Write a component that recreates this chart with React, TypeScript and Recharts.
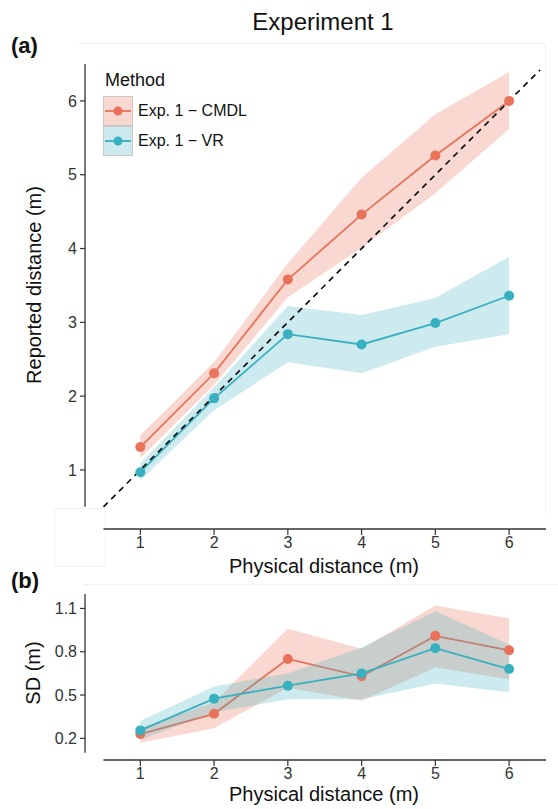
import React from "react";
import { Area, ComposedChart, Line, ReferenceLine, XAxis, YAxis } from "recharts";

// physical distance (m)
const distances = [1, 2, 3, 4, 5, 6];

// (a) reported distance, mean and ribbon
const cmdlMean = [1.31, 2.31, 3.58, 4.46, 5.26, 6.0];
const cmdlLow = [1.16, 2.15, 3.34, 4.01, 4.75, 5.62];
const cmdlHigh = [1.47, 2.46, 3.8, 4.96, 5.82, 6.39];
const vrMean = [0.97, 1.97, 2.84, 2.7, 2.99, 3.36];
const vrLow = [0.86, 1.81, 2.46, 2.31, 2.67, 2.84];
const vrHigh = [1.09, 2.12, 3.22, 3.1, 3.33, 3.89];

// (b) SD of reported distance, mean and ribbon
const sdCmdlMean = [0.23, 0.37, 0.75, 0.63, 0.91, 0.81];
const sdCmdlLow = [0.17, 0.27, 0.55, 0.46, 0.69, 0.61];
const sdCmdlHigh = [0.27, 0.45, 0.96, 0.82, 1.12, 1.03];
const sdVrMean = [0.255, 0.475, 0.565, 0.65, 0.825, 0.68];
const sdVrLow = [0.19, 0.38, 0.47, 0.47, 0.58, 0.52];
const sdVrHigh = [0.32, 0.56, 0.65, 0.83, 1.08, 0.85];

const xTicks = [1, 2, 3, 4, 5, 6];
const yTicksA = [1, 2, 3, 4, 5, 6];
const yTicksB = [0.2, 0.5, 0.8, 1.1];

const methods = [
  { key: "cmdl", name: "Exp. 1 \u2212 CMDL", color: "#E8735A" },
  { key: "vr", name: "Exp. 1 \u2212 VR", color: "#38B0BF" },
];

const FONT = '"Liberation Sans", Arial, Helvetica, sans-serif';
const AXIS = "#333333";

const dataA = distances.map((x, i) => ({
  x,
  cmdl: cmdlMean[i],
  cmdlBand: [cmdlLow[i], cmdlHigh[i]],
  vr: vrMean[i],
  vrBand: [vrLow[i], vrHigh[i]],
}));

const dataB = distances.map((x, i) => ({
  x,
  cmdl: sdCmdlMean[i],
  cmdlBand: [sdCmdlLow[i], sdCmdlHigh[i]],
  vr: sdVrMean[i],
  vrBand: [sdVrLow[i], sdVrHigh[i]],
}));

const tickStyle = { fontSize: 16, fill: AXIS, fontFamily: FONT };

function series(z: number) {
  // ribbon, then line on top, per method; later method drawn above
  return methods.flatMap((m, i) => [
    <Area
      key={m.key + "-band"}
      dataKey={m.key + "Band"}
      type="linear"
      stroke="none"
      fill={m.color}
      fillOpacity={i === 0 ? 0.28 : 0.25}
      isAnimationActive={false}
      activeDot={false}
      zIndex={z + i * 20}
    />,
    <Line
      key={m.key + "-line"}
      dataKey={m.key}
      type="linear"
      stroke={m.color}
      strokeWidth={1.8}
      dot={{ r: 5, fill: m.color, stroke: m.color, strokeWidth: 0 }}
      activeDot={false}
      isAnimationActive={false}
      zIndex={z + i * 20 + 10}
    />,
  ]);
}

function MethodLegend() {
  return (
    <div style={{ position: "absolute", left: 103, top: 70, fontFamily: FONT, color: "#111" }}>
      <div style={{ fontSize: 18, lineHeight: "20px", marginLeft: 2, marginBottom: 6 }}>Method</div>
      {methods.map((m, i) => (
        <div key={m.key} style={{ display: "flex", alignItems: "center", height: 30 }}>
          <svg width={30} height={30} style={{ display: "block" }}>
            <rect
              x={0.5}
              y={0.5}
              width={29}
              height={29}
              fill={m.color}
              fillOpacity={i === 0 ? 0.28 : 0.25}
              stroke="#c8c8c8"
            />
            <line x1={2} y1={15} x2={28} y2={15} stroke={m.color} strokeWidth={1.8} />
            <circle cx={15} cy={15} r={4.5} fill={m.color} />
          </svg>
          <span style={{ fontSize: 16, marginLeft: 5 }}>{m.name}</span>
        </div>
      ))}
    </div>
  );
}

const abs = (extra: React.CSSProperties): React.CSSProperties => ({
  position: "absolute",
  fontFamily: FONT,
  color: "#111",
  whiteSpace: "nowrap",
  lineHeight: 1,
  ...extra,
});

export default function App() {
  return (
    <div style={{ position: "absolute", left: 0, top: 0, width: 558, height: 809, background: "#fff", overflow: "hidden" }}>
      {/* faint panel outlines seen in the source figure */}
      <div style={{ position: "absolute", left: 78, top: 43, width: 467, height: 470, borderTop: "1px solid #f0f0f0", borderRight: "1px solid #f0f0f0" }} />
      <div style={{ position: "absolute", left: 54, top: 508, width: 50, height: 57, border: "1px solid #f2f2f2" }} />
      <div style={{ position: "absolute", left: 83, top: 584, width: 475, height: 170, borderTop: "1px solid #f0f0f0" }} />

      {/* panel (a) */}
      <div style={{ position: "absolute", left: 0, top: 0 }}>
        <ComposedChart width={558} height={560} data={dataA} margin={{ top: 64, right: 12, bottom: 0, left: 0 }}>
          <XAxis
            type="number"
            dataKey="x"
            domain={[0.25, 6.5]}
            ticks={xTicks}
            allowDataOverflow
            axisLine={false}
            tickLine={{ stroke: AXIS, strokeWidth: 1.2 }}
            tickSize={6}
            tickMargin={2}
            height={31}
            tick={tickStyle}
          />
          <YAxis
            type="number"
            domain={[0.2, 6.5]}
            ticks={yTicksA}
            allowDataOverflow
            axisLine={false}
            tickLine={{ stroke: AXIS, strokeWidth: 1.2 }}
            tickSize={5}
            tickMargin={3}
            width={85}
            tick={tickStyle}
          />
          {series(100)}
          <ReferenceLine
            segment={[{ x: 0.5, y: 0.5 }, { x: 6.42, y: 6.42 }]}
            stroke="#111"
            strokeWidth={1.7}
            strokeDasharray="6 5"
            ifOverflow="visible"
            zIndex={450}
          />
          <ReferenceLine segment={[{ x: 0.5, y: 0.2 }, { x: 6.5, y: 0.2 }]} stroke={AXIS} strokeWidth={1.3} ifOverflow="visible" />
          <ReferenceLine segment={[{ x: 0.25, y: 0.5 }, { x: 0.25, y: 6.5 }]} stroke={AXIS} strokeWidth={1.3} ifOverflow="visible" />
        </ComposedChart>
      </div>

      {/* panel (b) */}
      <div style={{ position: "absolute", left: 0, top: 560 }}>
        <ComposedChart width={558} height={249} data={dataB} margin={{ top: 34, right: 12, bottom: 0, left: 0 }}>
          <XAxis
            type="number"
            dataKey="x"
            domain={[0.25, 6.5]}
            ticks={xTicks}
            allowDataOverflow
            axisLine={false}
            tickLine={{ stroke: AXIS, strokeWidth: 1.2 }}
            tickSize={6}
            tickMargin={2}
            height={49}
            tick={tickStyle}
          />
          <YAxis
            type="number"
            domain={[0.05, 1.2]}
            ticks={yTicksB}
            allowDataOverflow
            axisLine={false}
            tickLine={{ stroke: AXIS, strokeWidth: 1.2 }}
            tickSize={5}
            tickMargin={3}
            width={85}
            tick={tickStyle}
            tickFormatter={(v: number) => v.toFixed(1)}
          />
          {series(100)}
          <ReferenceLine segment={[{ x: 0.5, y: 0.05 }, { x: 6.5, y: 0.05 }]} stroke={AXIS} strokeWidth={1.3} ifOverflow="visible" />
          <ReferenceLine segment={[{ x: 0.25, y: 0.1 }, { x: 0.25, y: 1.2 }]} stroke={AXIS} strokeWidth={1.3} ifOverflow="visible" />
        </ComposedChart>
      </div>

      <MethodLegend />

      <div style={abs({ left: 323, top: 10, fontSize: 24, transform: "translateX(-50%)" })}>Experiment 1</div>
      <div style={abs({ left: 11, top: 35, fontSize: 22, fontWeight: 700 })}>(a)</div>
      <div style={abs({ left: 11, top: 570, fontSize: 22, fontWeight: 700 })}>(b)</div>
      <div style={abs({ left: 324, top: 556, fontSize: 20, transform: "translateX(-50%)" })}>Physical distance (m)</div>
      <div style={abs({ left: 324, top: 784, fontSize: 20, transform: "translateX(-50%)" })}>Physical distance (m)</div>
      <div style={abs({ left: 34, top: 285, fontSize: 20, transform: "translate(-50%, -50%) rotate(-90deg)" })}>
        Reported distance (m)
      </div>
      <div style={abs({ left: 33, top: 673, fontSize: 20, transform: "translate(-50%, -50%) rotate(-90deg)" })}>SD (m)</div>
    </div>
  );
}
